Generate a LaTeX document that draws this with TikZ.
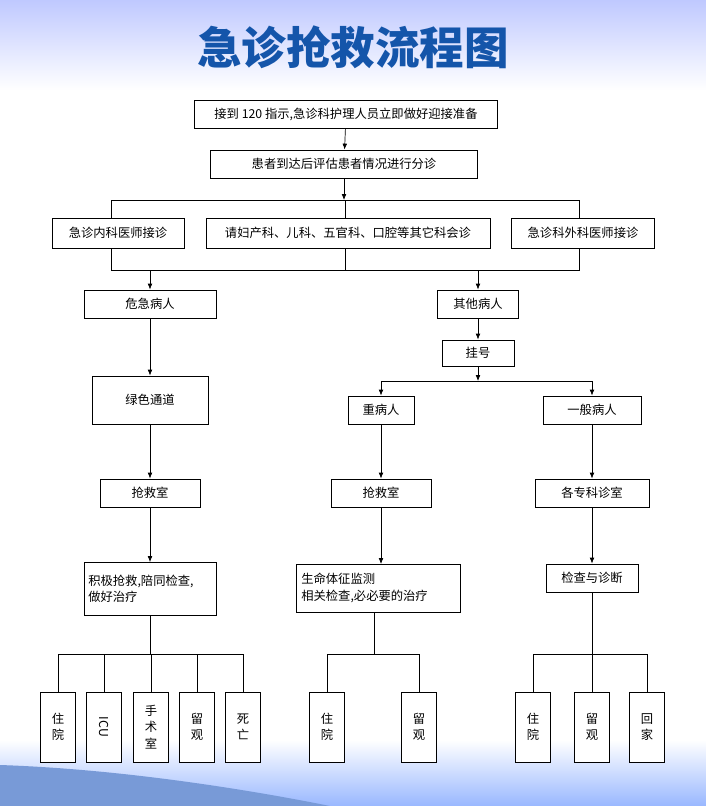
\documentclass[tikz,border=0pt]{standalone}
\usepackage{fontspec}
\setmainfont{Noto Sans CJK SC}
\usetikzlibrary{arrows.meta}
\definecolor{titleblue}{RGB}{20,85,170}
\tikzset{
  box/.style={draw, thick, fill=white, inner sep=1pt, font=\fontsize{10.5}{14}\selectfont},
  vbox/.style={box, minimum width=1.05cm, minimum height=2.1cm, align=center},
  arr/.style={-{Latex[length=5pt,width=4pt]}, semithick},
  ln/.style={thick}
}
\begin{document}
\begin{tikzpicture}[x=0.03cm,y=-0.03cm]
  % 背景
  \useasboundingbox (0,0) rectangle (706,806);
  \fill[top color=cyan!15!blue!25, bottom color=white] (0,0) rectangle (706,90);
  \fill[white] (0,90) rectangle (706,740);
  \fill[top color=white, bottom color=cyan!30!blue!40] (0,740) rectangle (706,806);
  \fill[cyan!45!blue!55] (0,765) .. controls (150,770) and (300,800) .. (330,806) -- (0,806) -- cycle;
  % タイトル
  \node (title) at (353,47) {\fontsize{38}{44}\selectfont\bfseries\color{titleblue}急诊抢救流程图};
  % 上段
  \node[box, minimum width=9.1cm, minimum height=0.84cm] (notice) at (346,114) {接到 120 指示,急诊科护理人员立即做好迎接准备};
  \node[box, minimum width=8.0cm, minimum height=0.84cm] (triage) at (344,164) {患者到达后评估患者情况进行分诊};
  \node[box, minimum width=3.96cm, minimum height=0.9cm] (medical) at (118,233) {急诊内科医师接诊};
  \node[box, minimum width=8.52cm, minimum height=0.9cm] (consult) at (348,233) {请妇产科、儿科、五官科、口腔等其它科会诊};
  \node[box, minimum width=4.29cm, minimum height=0.9cm] (surgery) at (583,233) {急诊科外科医师接诊};
  % 分岐
  \coordinate (bus1) at (344,200);
  \draw[arr] (triage) -- (bus1);
  \draw[ln] (111,200) -- (579,200);
  \draw[ln] (111,200) -- (111,218) (345,200) -- (345,218) (579,200) -- (579,218);
  \draw[ln] (111,248) -- (111,270) -- (579,270) -- (579,248) (345,248) -- (345,270);
  \draw[arr] (notice) -- (triage);
  % 危急病人
  \node[box, minimum width=3.96cm, minimum height=0.84cm] (critical) at (150,304) {危急病人};
  \node[box, minimum width=2.43cm, minimum height=0.84cm] (other) at (478,304) {其他病人};
  \node[box, minimum width=2.16cm, minimum height=0.78cm] (register) at (478,353) {挂号};
  \draw[arr] (150,270) -- (critical);
  \draw[arr] (478,270) -- (other);
  \draw[arr] (other) -- (register);
  \node[box, minimum width=3.48cm, minimum height=1.44cm] (green) at (150,400) {绿色通道};
  \node[box, minimum width=1.98cm, minimum height=0.84cm] (severe) at (381,410) {重病人};
  \node[box, minimum width=2.94cm, minimum height=0.84cm] (general) at (592,410) {一般病人};
  \draw[arr] (register) -- (478,381);
  \draw[ln] (381,381) -- (592,381);
  \draw[arr] (381,381) -- (severe);
  \draw[arr] (592,381) -- (general);
  \draw[arr] (critical) -- (green);
  % 抢救室
  \node[box, minimum width=3.0cm, minimum height=0.84cm] (rescue1) at (150,493) {抢救室};
  \node[box, minimum width=3.0cm, minimum height=0.84cm] (rescue2) at (381,493) {抢救室};
  \node[box, minimum width=3.42cm, minimum height=0.84cm] (clinic) at (592,493) {各专科诊室};
  \draw[arr] (green) -- (rescue1);
  \draw[arr] (severe) -- (rescue2);
  \draw[arr] (general) -- (clinic);
  \node[box, minimum width=3.96cm, minimum height=1.59cm, align=left, text width=3.7cm] (treat1) at (150,589) {积极抢救,陪同检查,\\做好治疗};
  \node[box, minimum width=4.92cm, minimum height=1.44cm, align=left, text width=4.6cm] (treat2) at (378,588) {生命体征监测\\相关检查,必必要的治疗};
  \node[box, minimum width=2.76cm, minimum height=0.84cm] (exam) at (592,578) {检查与诊断};
  \draw[arr] (rescue1) -- (treat1);
  \draw[arr] (rescue2) -- (381,564);
  \draw[arr] (clinic) -- (exam);
  % 最下段
  \node[vbox] (l1) at (58,727) {住\\院};
  \node[vbox] (l2) at (104,727) {\rotatebox{-90}{ICU}};
  \node[vbox] (l3) at (151,727) {手\\术\\室};
  \node[vbox] (l4) at (197,727) {留\\观};
  \node[vbox] (l5) at (243,727) {死\\亡};
  \node[vbox] (m1) at (327,727) {住\\院};
  \node[vbox] (m2) at (419,727) {留\\观};
  \node[vbox] (r1) at (533,727) {住\\院};
  \node[vbox] (r2) at (592,727) {留\\观};
  \node[vbox] (r3) at (647,727) {回\\家};
  \draw[ln] (treat1) -- (150,654);
  \draw[ln] (374,612) -- (374,654);
  \draw[ln] (exam) -- (592,654);
  \draw[ln] (58,654) -- (243,654) (327,654) -- (419,654) (533,654) -- (647,654);
  \foreach \n in {l1,l2,l3,l4,l5,m1,m2,r1,r2,r3}
    \draw[ln] (\n.north) -- (\n.north |- 0,654);
\end{tikzpicture}
\end{document}
